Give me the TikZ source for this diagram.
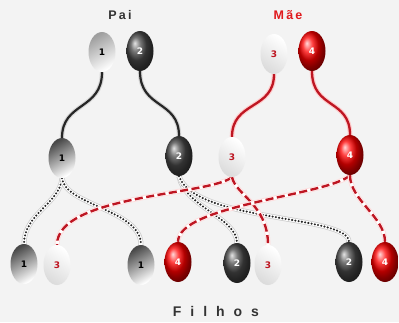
\documentclass[tikz,border=0pt]{standalone}
\usepackage{fontspec}
\usetikzlibrary{shapes.geometric}
\newfontfamily\headfont[LetterSpace=18]{Liberation Sans}
\newfontfamily\footfont[LetterSpace=64]{Liberation Sans}
\newfontfamily\numfont{DejaVu Sans}
\definecolor{bgc}{HTML}{F3F3F3}
\definecolor{eggred}{HTML}{E01A1E}
\definecolor{wirered}{HTML}{BE1622}
\definecolor{titlegrey}{HTML}{333333}
\pgfdeclarelayer{back}
\pgfdeclarelayer{wires}
\pgfsetlayers{back,wires,main}
\tikzset{
  egg/.style={ellipse, minimum width=27pt, minimum height=40pt, inner sep=0pt,
    font=\numfont\bfseries\fontsize{9}{9}\selectfont},
  greyegg/.style={egg, top color=black!72, bottom color=white, shading angle=30, text=black},
  paleegg/.style={egg, top color=black!38, bottom color=white, shading angle=30, text=black},
  darkegg/.style={egg, ball color=black!72, text=white},
  redegg/.style={egg, ball color=red, text=white},
  whiteegg/.style={egg, top color=white, bottom color=black!14, shading angle=-35,
    text=wirered},
  blackwire/.style={draw=black!85, line width=2.2pt,
    preaction={draw=black!16, line width=4.4pt}},
  redwire/.style={draw=wirered, line width=2.3pt,
    preaction={draw=red!20, line width=4.6pt}},
  dotwire/.style={draw=black!85, line width=2.3pt, line cap=round,
    dash pattern=on 0pt off 3.3pt,
    preaction={draw=black!20, line width=5pt},
    preaction={draw=white, line width=3.5pt}},
  dashwire/.style={draw=wirered, line width=2.4pt,
    dash pattern=on 8pt off 3.5pt,
    preaction={draw=red!14, line width=4.8pt},
    preaction={draw=white, line width=3.2pt}},
  title/.style={font=\headfont\bfseries\fontsize{12.5}{12.5}\selectfont}
}
\begin{document}
\begin{tikzpicture}[x=1pt,y=-1pt]
\begin{pgfonlayer}{back}
  \fill[bgc] (0,0) rectangle (399,322);
\end{pgfonlayer}

% parents' titles
\node[title, text=titlegrey] (pai) at (120,15) {Pai};
\node[title, text=eggred] (mae) at (288,15) {Mãe};

% parents' chromosomes
\node[paleegg]  (p1) at (102,52) {1};
\node[darkegg]  (p2) at (140,51) {2};
\node[whiteegg] (m3) at (274,54) {3};
\node[redegg]   (m4) at (312,51) {4};

% gametes after separation
\node[greyegg]  (a1) at (62,158) {1};
\node[darkegg]  (a2) at (179,156) {2};
\node[whiteegg] (a3) at (232,157) {3};
\node[redegg]   (a4) at (350,155) {4};

% children's combinations
\node[greyegg]  (c1) at (24,264) {1};
\node[whiteegg] (c2) at (57,265) {3};
\node[greyegg]  (c3) at (141,265) {1};
\node[redegg]   (c4) at (178,262) {4};
\node[darkegg]  (c5) at (237,263) {2};
\node[whiteegg] (c6) at (268,265) {3};
\node[darkegg]  (c7) at (349,262) {2};
\node[redegg]   (c8) at (385,262) {4};

\node[font=\footfont\bfseries\fontsize{14}{14}\selectfont, text=titlegrey]
  (filhos) at (216,311) {Filhos};

\begin{pgfonlayer}{wires}
  % parents to gametes
  \draw[blackwire] (p1.south) .. controls +(0,38) and +(0,-36) .. (a1.north);
  \draw[blackwire] (p2.south) .. controls +(0,38) and +(0,-36) .. (a2.north);
  \draw[redwire]   (m3.south) .. controls +(0,36) and +(0,-36) .. (a3.north);
  \draw[redwire]   (m4.south) .. controls +(0,38) and +(0,-36) .. (a4.north);
  % father's gametes to children
  \draw[dotwire] (a1.south) .. controls +(-2,25) and +(0,-30) .. (c1.north);
  \draw[dotwire] (a1.south) .. controls +(3,27) and +(0,-35) .. (c3.north);
  \draw[dotwire] (a2.south) .. controls +(5,30) and +(0,-25) .. (c5.north);
  \draw[dotwire] (a2.south) .. controls +(16,46) and +(0,-27) .. (c7.north);
  % mother's gametes to children
  \draw[dashwire] (a3.south) .. controls +(-22,18) and +(0,-50) .. (c2.north);
  \draw[dashwire] (a3.south) .. controls +(4,18) and +(0,-40) .. (c6.north);
  \draw[dashwire] (a4.south) .. controls +(-20,20) and +(0,-37) .. (c4.north);
  \draw[dashwire] (a4.south) .. controls +(0,25) and +(0,-25) .. (c8.north);
\end{pgfonlayer}
\end{tikzpicture}
\end{document}
